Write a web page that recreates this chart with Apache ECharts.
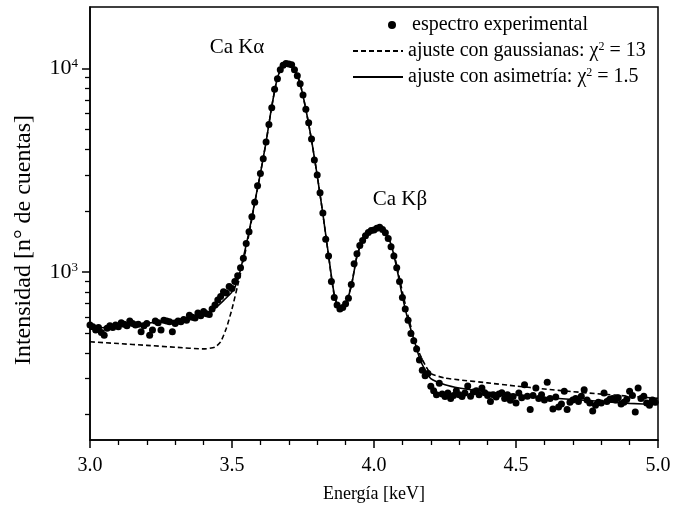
<!DOCTYPE html>
<html><head><meta charset="utf-8">
<script src="https://cdn.jsdelivr.net/npm/echarts@6/dist/echarts.min.js"></script>
<style>html,body{margin:0;padding:0;background:#fff}#c{width:674px;height:517px}</style>
</head><body><div id="c"></div>
<script>
// Experimental spectrum (energy in keV, counts)
const expEnergy = [
3.00,3.01,3.02,3.03,3.04,3.05,3.06,3.07,3.08,3.09,
3.10,3.11,3.12,3.13,3.14,3.15,3.16,3.17,3.18,3.19,
3.20,3.21,3.22,3.23,3.24,3.25,3.26,3.27,3.28,3.29,
3.30,3.31,3.32,3.33,3.34,3.35,3.36,3.37,3.38,3.39,
3.40,3.41,3.42,3.43,3.44,3.45,3.46,3.47,3.48,3.49,
3.50,3.51,3.52,3.53,3.54,3.55,3.56,3.57,3.58,3.59,
3.60,3.61,3.62,3.63,3.64,3.65,3.66,3.67,3.68,3.69,
3.70,3.71,3.72,3.73,3.74,3.75,3.76,3.77,3.78,3.79,
3.80,3.81,3.82,3.83,3.84,3.85,3.86,3.87,3.88,3.89,
3.90,3.91,3.92,3.93,3.94,3.95,3.96,3.97,3.98,3.99,
4.00,4.01,4.02,4.03,4.04,4.05,4.06,4.07,4.08,4.09,
4.10,4.11,4.12,4.13,4.14,4.15,4.16,4.17,4.18,4.19,
4.20,4.21,4.22,4.23,4.24,4.25,4.26,4.27,4.28,4.29,
4.30,4.31,4.32,4.33,4.34,4.35,4.36,4.37,4.38,4.39,
4.40,4.41,4.42,4.43,4.44,4.45,4.46,4.47,4.48,4.49,
4.50,4.51,4.52,4.53,4.54,4.55,4.56,4.57,4.58,4.59,
4.60,4.61,4.62,4.63,4.64,4.65,4.66,4.67,4.68,4.69,
4.70,4.71,4.72,4.73,4.74,4.75,4.76,4.77,4.78,4.79,
4.80,4.81,4.82,4.83,4.84,4.85,4.86,4.87,4.88,4.89,
4.90,4.91,4.92,4.93,4.94,4.95,4.96,4.97,4.98,4.99];
const expCounts = [
550,540,520,535,505,490,530,545,535,550,
540,565,555,545,575,560,550,555,510,545,
560,490,520,575,565,520,580,575,570,510,
560,575,570,585,580,615,600,595,630,610,
640,625,620,660,690,730,760,800,790,850,
830,900,960,1050,1170,1380,1580,1870,2200,2650,
3050,3600,4350,5300,6400,7900,8900,9850,10350,10550,
10500,10400,9850,9200,8400,7400,6300,5400,4500,3550,
3000,2450,1950,1450,1200,900,750,690,660,670,
700,745,870,1100,1230,1350,1430,1510,1565,1600,
1610,1640,1660,1620,1560,1460,1330,1200,1050,900,
750,660,580,500,460,420,370,330,310,318,
275,262,250,285,252,245,255,240,248,262,
250,245,255,276,246,258,262,250,270,256,
248,232,250,244,252,256,240,250,235,245,
228,255,242,280,246,212,248,270,240,250,
236,288,240,213,244,218,225,260,212,230,
236,240,232,246,265,236,228,208,222,230,
228,255,232,238,240,236,242,225,230,238,
260,248,206,270,240,246,228,222,236,230];

// Fit with asymmetric profile
const asymEnergy = [3.00,3.05,3.10,3.15,3.20,3.25,3.30,3.35,3.40,3.44,
3.47,3.50,3.52,3.54,3.56,3.58,3.60,3.62,3.64,3.66,
3.68,3.70,3.72,3.74,3.76,3.78,3.80,3.82,3.84,3.86,
3.88,3.90,3.92,3.94,3.96,3.98,4.00,4.02,4.04,4.06,
4.08,4.10,4.12,4.14,4.16,4.18,4.20,4.25,4.30,4.40,
4.50,4.60,4.70,4.80,4.90,5.00];
const asymCounts = [525,535,545,553,562,570,580,595,620,665,
725,800,910,1180,1580,2200,3050,4350,6500,9000,
10350,10500,9900,8400,6300,4450,2980,1930,1210,780,
645,700,850,1200,1430,1560,1610,1650,1560,1370,
1050,760,580,470,380,330,300,280,270,258,
250,243,237,232,227,224];

// Fit with gaussians
const gaussEnergy = [3.00,3.10,3.20,3.30,3.40,3.44,3.46,3.48,3.50,3.52,
3.54,3.56,3.58,3.60,3.62,3.64,3.66,3.68,3.70,3.72,
3.74,3.76,3.78,3.80,3.82,3.84,3.86,3.88,3.90,3.92,
3.94,3.96,3.98,4.00,4.02,4.04,4.06,4.08,4.10,4.12,
4.14,4.16,4.18,4.20,4.25,4.30,4.40,4.50,4.60,4.70,
4.80,4.90,5.00];
const gaussCounts = [455,446,437,428,420,428,455,530,660,860,
1130,1540,2180,3050,4350,6500,9000,10350,10500,9900,
8400,6300,4450,2980,1930,1200,770,660,710,860,
1200,1430,1560,1610,1650,1560,1380,1080,800,610,
480,400,350,318,302,296,286,276,267,259,
252,246,240];

const xTickLabels = ['3.0','3.5','4.0','4.5','5.0'];
const yMajorTicks = [1000, 10000];
const yMinorTicks = [200,300,400,500,600,700,800,900,2000,3000,4000,5000,6000,7000,8000,9000];
const seriesNames = ['espectro experimental','ajuste con gaussianas: χ2 = 13','ajuste con asimetría: χ2 = 1.5'];
const peakLabels = ['Ca Kα','Ca Kβ'];

const zip = (a,b) => a.map((v,i)=>[v,b[i]]);
const F = 'Liberation Serif';
const legendFmt = n => n.replace('χ2', 'χ{s|2}');
const legendText = {fontFamily:F, fontSize:20, color:'#000', rich:{s:{fontFamily:F, fontSize:12, verticalAlign:'top', color:'#000'}}};

const chart = echarts.init(document.getElementById('c'), null, {renderer:'canvas'});
chart.setOption({
  animation:false,
  backgroundColor:'#fff',
  grid:{left:90, right:16, top:7, bottom:77, show:true, borderColor:'#000', borderWidth:1.5},
  xAxis:{
    type:'value', min:3, max:5, interval:0.5,
    axisLine:{lineStyle:{color:'#000', width:1.5}},
    axisTick:{inside:false, length:8, lineStyle:{color:'#000', width:1.5}},
    minorTick:{show:true, splitNumber:5, length:5, lineStyle:{color:'#000', width:1.3}},
    splitLine:{show:false},
    axisLabel:{color:'#000', fontFamily:F, fontSize:20, margin:16,
      formatter:v => xTickLabels[Math.round((v-3)/0.5)]},
    name:'Energía [keV]', nameLocation:'middle', nameGap:45,
    nameTextStyle:{fontFamily:F, fontSize:18, color:'#000'}
  },
  yAxis:[{
    type:'log', min:150, max:20000, logBase:10,
    axisLine:{show:true, lineStyle:{color:'#000', width:1.5}},
    axisTick:{show:true, inside:false, length:8, customValues:yMajorTicks, lineStyle:{color:'#000', width:1.5}},
    splitLine:{show:false},
    axisLabel:{customValues:yMajorTicks, margin:12, color:'#000', fontFamily:F, fontSize:22,
      formatter:v => '{b|10}{s|' + Math.round(Math.log10(v)) + '}',
      rich:{b:{fontFamily:F, fontSize:22, color:'#000'}, s:{fontFamily:F, fontSize:13, color:'#000', verticalAlign:'top'}}},
    name:'Intensidad [n° de cuentas]', nameLocation:'middle', nameGap:54, nameRotate:90,
    nameTextStyle:{fontFamily:F, fontSize:24, color:'#000', padding:[0,33,0,0]}
  },{
    type:'log', min:150, max:20000, logBase:10, position:'left',
    axisLine:{show:false},
    axisTick:{show:true, inside:false, length:5, customValues:yMinorTicks, lineStyle:{color:'#000', width:1.3}},
    axisLabel:{show:false}, splitLine:{show:false}
  }],
  legend:[{
    data:[seriesNames[0]], left:383, top:10, icon:'circle', itemWidth:8, itemHeight:8,
    textStyle:Object.assign({padding:[0,0,0,11]}, legendText), formatter:legendFmt, selectedMode:false,
    itemStyle:{color:'#000', opacity:1}
  },{
    data:[seriesNames[1], seriesNames[2]], left:347, top:36, orient:'vertical',
    itemWidth:50, itemHeight:14, itemGap:6,
    textStyle:legendText, formatter:legendFmt, selectedMode:false,
    itemStyle:{opacity:0}
  }],
  graphic:[
    {type:'text', x:237, y:47, style:{text:peakLabels[0], font:'21px "Liberation Serif"', fill:'#000', align:'center', verticalAlign:'middle'}},
    {type:'text', x:400, y:199, style:{text:peakLabels[1], font:'21px "Liberation Serif"', fill:'#000', align:'center', verticalAlign:'middle'}}
  ],
  series:[{
    name:seriesNames[0], type:'scatter', data:zip(expEnergy, expCounts),
    symbol:'circle', symbolSize:7, itemStyle:{color:'#000', opacity:1}, z:2
  },{
    name:seriesNames[1], type:'line', data:zip(gaussEnergy, gaussCounts),
    showSymbol:false, symbol:'none', smooth:0.2,
    lineStyle:{color:'#000', width:1.6, type:[5,3]}, itemStyle:{color:'#000'}, z:3
  },{
    name:seriesNames[2], type:'line', data:zip(asymEnergy, asymCounts),
    showSymbol:false, symbol:'none', smooth:0.2,
    lineStyle:{color:'#000', width:1.6}, itemStyle:{color:'#000'}, z:3
  }]
});
</script></body></html>
